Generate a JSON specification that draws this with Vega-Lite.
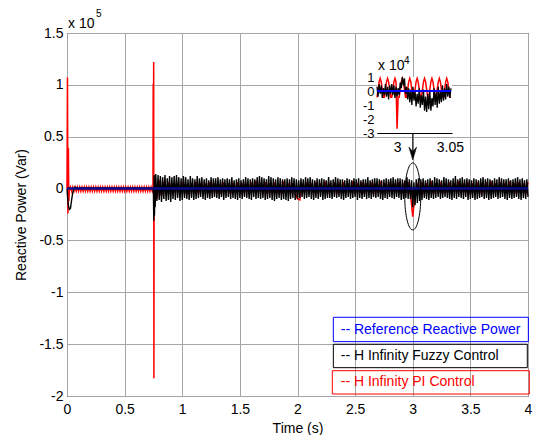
{
"$schema": "https://vega.github.io/schema/vega-lite/v6.json",
"width": 461, "height": 363,
"autosize": {"type": "none"},
"padding": {"left": 67, "top": 33, "right": 6, "bottom": 39},
"background": "white",
"config": {
  "view": {"stroke": "black", "strokeWidth": 1},
  "font": "Liberation Sans",
  "axis": {"labelFont": "Liberation Sans", "titleFont": "Liberation Sans", "labelFontSize": 14, "titleFontSize": 14, "labelColor": "black", "titleColor": "black", "titleFontWeight": "normal", "ticks": false, "domainColor": "black", "gridColor": "#a6a6a6", "gridOpacity": 1, "labelFlush": false, "labelOverlap": false}
},
"datasets": {
  "ref": [{"t": 0, "v": 0}, {"t": 4, "v": 0}],
  "pi": [
    {"t":0,"v":0},{"t":0.004,"v":107000},{"t":0.008,"v":-24000},{"t":0.012,"v":39000},{"t":0.016,"v":-12000},{"t":0.02,"v":-2000},
    {"t":0.03,"v":1500},{"t":0.04,"v":-2500},{"t":0.05,"v":1500},{"t":0.06,"v":-2500},{"t":0.07,"v":1500},{"t":0.08,"v":-2500},{"t":0.09,"v":1500},{"t":0.10,"v":-2500},{"t":0.11,"v":1500},{"t":0.12,"v":-2500},
    {"t":0.13,"v":1500},{"t":0.14,"v":-2500},{"t":0.15,"v":1500},{"t":0.16,"v":-2500},{"t":0.17,"v":1500},{"t":0.18,"v":-2500},{"t":0.19,"v":1500},{"t":0.20,"v":-2500},{"t":0.21,"v":1500},{"t":0.22,"v":-2500},
    {"t":0.23,"v":1500},{"t":0.24,"v":-2500},{"t":0.25,"v":1500},{"t":0.26,"v":-2500},{"t":0.27,"v":1500},{"t":0.28,"v":-2500},{"t":0.29,"v":1500},{"t":0.30,"v":-2500},{"t":0.31,"v":1500},{"t":0.32,"v":-2500},
    {"t":0.33,"v":1500},{"t":0.34,"v":-2500},{"t":0.35,"v":1500},{"t":0.36,"v":-2500},{"t":0.37,"v":1500},{"t":0.38,"v":-2500},{"t":0.39,"v":1500},{"t":0.40,"v":-2500},{"t":0.41,"v":1500},{"t":0.42,"v":-2500},
    {"t":0.43,"v":1500},{"t":0.44,"v":-2500},{"t":0.45,"v":1500},{"t":0.46,"v":-2500},{"t":0.47,"v":1500},{"t":0.48,"v":-2500},{"t":0.49,"v":1500},{"t":0.50,"v":-2500},{"t":0.51,"v":1500},{"t":0.52,"v":-2500},
    {"t":0.53,"v":1500},{"t":0.54,"v":-2500},{"t":0.55,"v":1500},{"t":0.56,"v":-2500},{"t":0.57,"v":1500},{"t":0.58,"v":-2500},{"t":0.59,"v":1500},{"t":0.60,"v":-2500},{"t":0.61,"v":1500},{"t":0.62,"v":-2500},
    {"t":0.63,"v":1500},{"t":0.64,"v":-2500},{"t":0.65,"v":1500},{"t":0.66,"v":-2500},{"t":0.67,"v":1500},{"t":0.68,"v":-2500},{"t":0.69,"v":1500},{"t":0.70,"v":-2500},{"t":0.71,"v":1500},{"t":0.72,"v":-2500},
    {"t":0.73,"v":1500},{"t":0.74,"v":-2500},
    {"t":0.746,"v":0},{"t":0.748,"v":101000},{"t":0.750,"v":2000},{"t":0.752,"v":122000},{"t":0.754,"v":-183000},{"t":0.756,"v":10000},
    {"t":0.76,"v":9000},{"t":0.78,"v":-10000},{"t":0.80,"v":8000},{"t":0.82,"v":-7000},{"t":0.84,"v":6000},{"t":0.86,"v":-5000},{"t":0.88,"v":6000},{"t":0.90,"v":-5000},{"t":0.92,"v":5000},{"t":0.94,"v":-4000},
    {"t":0.96,"v":5000},{"t":0.98,"v":-4000},{"t":1.00,"v":6000},{"t":1.02,"v":-5000},{"t":1.04,"v":4000},{"t":1.06,"v":-5000},{"t":1.08,"v":5000},{"t":1.10,"v":-4000},{"t":1.12,"v":6000},{"t":1.14,"v":-5000},
    {"t":1.16,"v":5000},{"t":1.18,"v":-4000},{"t":1.20,"v":5000},{"t":1.22,"v":-5000},{"t":1.24,"v":6000},{"t":1.26,"v":-4000},{"t":1.28,"v":5000},{"t":1.30,"v":-5000},{"t":1.32,"v":4000},{"t":1.34,"v":-5000},
    {"t":1.36,"v":6000},{"t":1.38,"v":-4000},{"t":1.40,"v":5000},{"t":1.42,"v":-5000},{"t":1.44,"v":4000},{"t":1.46,"v":-4000},{"t":1.48,"v":6000},{"t":1.50,"v":-5000},{"t":1.52,"v":5000},{"t":1.54,"v":-4000},
    {"t":1.56,"v":5000},{"t":1.58,"v":-5000},{"t":1.60,"v":6000},{"t":1.62,"v":-4000},{"t":1.64,"v":7000},{"t":1.66,"v":-4000},{"t":1.68,"v":5000},{"t":1.70,"v":-5000},{"t":1.72,"v":6000},{"t":1.74,"v":-5000},
    {"t":1.76,"v":5000},{"t":1.78,"v":-4000},{"t":1.80,"v":6000},{"t":1.82,"v":-5000},{"t":1.84,"v":4000},{"t":1.86,"v":-5000},{"t":1.88,"v":7000},{"t":1.90,"v":-4000},{"t":1.92,"v":5000},{"t":1.94,"v":-5000},
    {"t":1.96,"v":5000},{"t":1.98,"v":-4000},{"t":2.00,"v":-10000},{"t":2.02,"v":-11000},{"t":2.04,"v":5000},{"t":2.06,"v":-4000},{"t":2.08,"v":6000},{"t":2.10,"v":-5000},{"t":2.12,"v":5000},{"t":2.14,"v":-4000},
    {"t":2.16,"v":6000},{"t":2.18,"v":-5000},{"t":2.20,"v":5000},{"t":2.22,"v":-4000},{"t":2.24,"v":7000},{"t":2.26,"v":-5000},{"t":2.28,"v":5000},{"t":2.30,"v":-4000},{"t":2.32,"v":6000},{"t":2.34,"v":-5000},
    {"t":2.36,"v":5000},{"t":2.38,"v":-4000},{"t":2.40,"v":6000},{"t":2.42,"v":-5000},{"t":2.44,"v":5000},{"t":2.46,"v":-4000},{"t":2.48,"v":7000},{"t":2.50,"v":-5000},{"t":2.52,"v":5000},{"t":2.54,"v":-4000},
    {"t":2.56,"v":6000},{"t":2.58,"v":-5000},{"t":2.60,"v":5000},{"t":2.62,"v":-4000},{"t":2.64,"v":6000},{"t":2.66,"v":-5000},{"t":2.68,"v":5000},{"t":2.70,"v":-4000},{"t":2.72,"v":7000},{"t":2.74,"v":-5000},
    {"t":2.76,"v":5000},{"t":2.78,"v":-4000},{"t":2.80,"v":6000},{"t":2.82,"v":-5000},{"t":2.84,"v":5000},{"t":2.86,"v":-4000},{"t":2.88,"v":6000},{"t":2.90,"v":-5000},{"t":2.92,"v":5000},{"t":2.94,"v":-4000},
    {"t":2.96,"v":6000},{"t":2.98,"v":-5000},{"t":3.00,"v":-27000},{"t":3.02,"v":-6000},{"t":3.04,"v":5000},{"t":3.06,"v":-4000},{"t":3.08,"v":6000},{"t":3.10,"v":-5000},{"t":3.12,"v":5000},{"t":3.14,"v":-4000},
    {"t":3.16,"v":7000},{"t":3.18,"v":-5000},{"t":3.20,"v":5000},{"t":3.22,"v":-4000},{"t":3.24,"v":6000},{"t":3.26,"v":-5000},{"t":3.28,"v":5000},{"t":3.30,"v":-4000},{"t":3.32,"v":6000},{"t":3.34,"v":-5000},
    {"t":3.36,"v":5000},{"t":3.38,"v":-4000},{"t":3.40,"v":7000},{"t":3.42,"v":-5000},{"t":3.44,"v":5000},{"t":3.46,"v":-4000},{"t":3.48,"v":6000},{"t":3.50,"v":-5000},{"t":3.52,"v":5000},{"t":3.54,"v":-4000},
    {"t":3.56,"v":6000},{"t":3.58,"v":-5000},{"t":3.60,"v":5000},{"t":3.62,"v":-4000},{"t":3.64,"v":6000},{"t":3.66,"v":-5000},{"t":3.68,"v":7000},{"t":3.70,"v":-4000},{"t":3.72,"v":5000},{"t":3.74,"v":-5000},
    {"t":3.76,"v":6000},{"t":3.78,"v":-4000},{"t":3.80,"v":5000},{"t":3.82,"v":-5000},{"t":3.84,"v":7000},{"t":3.86,"v":-4000},{"t":3.88,"v":5000},{"t":3.90,"v":-5000},{"t":3.92,"v":6000},{"t":3.94,"v":-4000},
    {"t":3.96,"v":5000},{"t":3.98,"v":-5000},{"t":4.00,"v":6000}
  ],
  "fuzzy": [
    {"t":0,"v":0},{"t":0.005,"v":-8000},{"t":0.01,"v":-15000},{"t":0.02,"v":-20000},{"t":0.03,"v":-19000},{"t":0.04,"v":-11000},{"t":0.05,"v":-4000},{"t":0.06,"v":0},{"t":0.07,"v":1500},{"t":0.08,"v":800},
    {"t":0.15,"v":500},{"t":0.25,"v":300},{"t":0.35,"v":700},{"t":0.45,"v":400},{"t":0.55,"v":600},{"t":0.65,"v":400},{"t":0.745,"v":500},
    {"t":0.75,"v":-5000},{"t":0.753,"v":-31000},{"t":0.756,"v":13000},{"t":0.759,"v":-26000},{"t":0.762,"v":6000},{"t":0.765,"v":-18000},{"t":0.77,"v":14000},
    {"t":0.78,"v":-12000},{"t":0.79,"v":13000},{"t":0.80,"v":-11000},{"t":0.81,"v":12000},{"t":0.82,"v":-13000},{"t":0.83,"v":11000},{"t":0.84,"v":-10000},{"t":0.85,"v":13000},{"t":0.86,"v":-12000},{"t":0.87,"v":10000},
    {"t":0.88,"v":-11000},{"t":0.89,"v":12000},{"t":0.90,"v":-13000},{"t":0.91,"v":11000},{"t":0.92,"v":-10000},{"t":0.93,"v":12000},{"t":0.94,"v":-11000},{"t":0.95,"v":13000},{"t":0.96,"v":-9000},{"t":0.97,"v":11000},
    {"t":0.98,"v":-12000},{"t":0.99,"v":10000},{"t":1.00,"v":-11000},{"t":1.01,"v":12000},{"t":1.02,"v":-9000},{"t":1.03,"v":11000},{"t":1.04,"v":-10000},{"t":1.05,"v":9000},{"t":1.06,"v":-11000},{"t":1.07,"v":12000},
    {"t":1.08,"v":-9000},{"t":1.09,"v":10000},{"t":1.10,"v":-11000},{"t":1.11,"v":9000},{"t":1.12,"v":-10000},{"t":1.13,"v":12000},{"t":1.14,"v":-9000},{"t":1.15,"v":10000},{"t":1.16,"v":-8000},{"t":1.17,"v":11000},
    {"t":1.18,"v":-10000},{"t":1.19,"v":9000},{"t":1.20,"v":-11000},{"t":1.21,"v":10000},{"t":1.22,"v":-9000},{"t":1.23,"v":8000},{"t":1.24,"v":-10000},{"t":1.25,"v":11000},{"t":1.26,"v":-9000},{"t":1.27,"v":10000},
    {"t":1.28,"v":-8000},{"t":1.29,"v":10000},{"t":1.30,"v":-9000},{"t":1.31,"v":11000},{"t":1.32,"v":-10000},{"t":1.33,"v":9000},{"t":1.34,"v":-8000},{"t":1.35,"v":10000},{"t":1.36,"v":-11000},{"t":1.37,"v":9000},
    {"t":1.38,"v":-9000},{"t":1.39,"v":10000},{"t":1.40,"v":-8000},{"t":1.41,"v":9000},{"t":1.42,"v":-10000},{"t":1.43,"v":11000},{"t":1.44,"v":-9000},{"t":1.45,"v":8000},{"t":1.46,"v":-10000},{"t":1.47,"v":9000},
    {"t":1.48,"v":-11000},{"t":1.49,"v":10000},{"t":1.50,"v":-9000},{"t":1.51,"v":8000},{"t":1.52,"v":-10000},{"t":1.53,"v":9000},{"t":1.54,"v":-8000},{"t":1.55,"v":11000},{"t":1.56,"v":-9000},{"t":1.57,"v":10000},
    {"t":1.58,"v":-10000},{"t":1.59,"v":9000},{"t":1.60,"v":-11000},{"t":1.61,"v":10000},{"t":1.62,"v":-8000},{"t":1.63,"v":9000},{"t":1.64,"v":-10000},{"t":1.65,"v":11000},{"t":1.66,"v":-9000},{"t":1.67,"v":12000},
    {"t":1.68,"v":-10000},{"t":1.69,"v":11000},{"t":1.70,"v":-9000},{"t":1.71,"v":10000},{"t":1.72,"v":-11000},{"t":1.73,"v":9000},{"t":1.74,"v":-10000},{"t":1.75,"v":12000},{"t":1.76,"v":-9000},{"t":1.77,"v":11000},
    {"t":1.78,"v":-11000},{"t":1.79,"v":10000},{"t":1.80,"v":-12000},{"t":1.81,"v":9000},{"t":1.82,"v":-10000},{"t":1.83,"v":11000},{"t":1.84,"v":-9000},{"t":1.85,"v":10000},{"t":1.86,"v":-11000},{"t":1.87,"v":9000},
    {"t":1.88,"v":-10000},{"t":1.89,"v":9000},{"t":1.90,"v":-11000},{"t":1.91,"v":10000},{"t":1.92,"v":-12000},{"t":1.93,"v":9000},{"t":1.94,"v":-10000},{"t":1.95,"v":11000},{"t":1.96,"v":-9000},{"t":1.97,"v":10000},
    {"t":1.98,"v":-11000},{"t":1.99,"v":9000},{"t":2.00,"v":-10000},{"t":2.01,"v":8000},{"t":2.02,"v":-9000},{"t":2.03,"v":10000},{"t":2.04,"v":-8000},{"t":2.05,"v":9000},{"t":2.06,"v":-10000},{"t":2.07,"v":11000},
    {"t":2.08,"v":-9000},{"t":2.09,"v":10000},{"t":2.10,"v":-8000},{"t":2.11,"v":11000},{"t":2.12,"v":-10000},{"t":2.13,"v":9000},{"t":2.14,"v":-11000},{"t":2.15,"v":8000},{"t":2.16,"v":-9000},{"t":2.17,"v":10000},
    {"t":2.18,"v":-10000},{"t":2.19,"v":9000},{"t":2.20,"v":-8000},{"t":2.21,"v":10000},{"t":2.22,"v":-11000},{"t":2.23,"v":9000},{"t":2.24,"v":-10000},{"t":2.25,"v":8000},{"t":2.26,"v":-9000},{"t":2.27,"v":11000},
    {"t":2.28,"v":-9000},{"t":2.29,"v":8000},{"t":2.30,"v":-10000},{"t":2.31,"v":9000},{"t":2.32,"v":-8000},{"t":2.33,"v":11000},{"t":2.34,"v":-9000},{"t":2.35,"v":10000},{"t":2.36,"v":-8000},{"t":2.37,"v":9000},
    {"t":2.38,"v":-10000},{"t":2.39,"v":9000},{"t":2.40,"v":-11000},{"t":2.41,"v":8000},{"t":2.42,"v":-9000},{"t":2.43,"v":10000},{"t":2.44,"v":-8000},{"t":2.45,"v":9000},{"t":2.46,"v":-10000},{"t":2.47,"v":8000},
    {"t":2.48,"v":-9000},{"t":2.49,"v":10000},{"t":2.50,"v":-8000},{"t":2.51,"v":9000},{"t":2.52,"v":-11000},{"t":2.53,"v":10000},{"t":2.54,"v":-9000},{"t":2.55,"v":8000},{"t":2.56,"v":-10000},{"t":2.57,"v":9000},
    {"t":2.58,"v":-8000},{"t":2.59,"v":9000},{"t":2.60,"v":-10000},{"t":2.61,"v":11000},{"t":2.62,"v":-9000},{"t":2.63,"v":8000},{"t":2.64,"v":-10000},{"t":2.65,"v":9000},{"t":2.66,"v":-8000},{"t":2.67,"v":10000},
    {"t":2.68,"v":-9000},{"t":2.69,"v":10000},{"t":2.70,"v":-8000},{"t":2.71,"v":9000},{"t":2.72,"v":-10000},{"t":2.73,"v":8000},{"t":2.74,"v":-11000},{"t":2.75,"v":9000},{"t":2.76,"v":-9000},{"t":2.77,"v":10000},
    {"t":2.78,"v":-10000},{"t":2.79,"v":9000},{"t":2.80,"v":-8000},{"t":2.81,"v":10000},{"t":2.82,"v":-9000},{"t":2.83,"v":11000},{"t":2.84,"v":-10000},{"t":2.85,"v":9000},{"t":2.86,"v":-8000},{"t":2.87,"v":10000},
    {"t":2.88,"v":-9000},{"t":2.89,"v":10000},{"t":2.90,"v":-11000},{"t":2.91,"v":9000},{"t":2.92,"v":-10000},{"t":2.93,"v":8000},{"t":2.94,"v":-9000},{"t":2.95,"v":11000},{"t":2.96,"v":-10000},{"t":2.97,"v":9000},
    {"t":2.98,"v":-10000},{"t":2.99,"v":8000},{"t":3.00,"v":-18000},{"t":3.01,"v":6000},{"t":3.02,"v":-16000},{"t":3.03,"v":9000},{"t":3.04,"v":-14000},{"t":3.05,"v":10000},{"t":3.06,"v":-12000},{"t":3.07,"v":9000},
    {"t":3.08,"v":-11000},{"t":3.09,"v":10000},{"t":3.10,"v":-9000},{"t":3.11,"v":8000},{"t":3.12,"v":-10000},{"t":3.13,"v":9000},{"t":3.14,"v":-11000},{"t":3.15,"v":10000},{"t":3.16,"v":-9000},{"t":3.17,"v":8000},
    {"t":3.18,"v":-10000},{"t":3.19,"v":11000},{"t":3.20,"v":-9000},{"t":3.21,"v":10000},{"t":3.22,"v":-8000},{"t":3.23,"v":9000},{"t":3.24,"v":-10000},{"t":3.25,"v":8000},{"t":3.26,"v":-9000},{"t":3.27,"v":11000},
    {"t":3.28,"v":-8000},{"t":3.29,"v":10000},{"t":3.30,"v":-9000},{"t":3.31,"v":9000},{"t":3.32,"v":-10000},{"t":3.33,"v":8000},{"t":3.34,"v":-11000},{"t":3.35,"v":10000},{"t":3.36,"v":-9000},{"t":3.37,"v":12000},
    {"t":3.38,"v":-10000},{"t":3.39,"v":9000},{"t":3.40,"v":-8000},{"t":3.41,"v":10000},{"t":3.42,"v":-9000},{"t":3.43,"v":11000},{"t":3.44,"v":-10000},{"t":3.45,"v":9000},{"t":3.46,"v":-8000},{"t":3.47,"v":10000},
    {"t":3.48,"v":-11000},{"t":3.49,"v":9000},{"t":3.50,"v":-10000},{"t":3.51,"v":8000},{"t":3.52,"v":-9000},{"t":3.53,"v":10000},{"t":3.54,"v":-11000},{"t":3.55,"v":9000},{"t":3.56,"v":-10000},{"t":3.57,"v":8000},
    {"t":3.58,"v":-9000},{"t":3.59,"v":10000},{"t":3.60,"v":-8000},{"t":3.61,"v":11000},{"t":3.62,"v":-10000},{"t":3.63,"v":9000},{"t":3.64,"v":-9000},{"t":3.65,"v":10000},{"t":3.66,"v":-11000},{"t":3.67,"v":9000},
    {"t":3.68,"v":-10000},{"t":3.69,"v":8000},{"t":3.70,"v":-9000},{"t":3.71,"v":10000},{"t":3.72,"v":-8000},{"t":3.73,"v":9000},{"t":3.74,"v":-10000},{"t":3.75,"v":11000},{"t":3.76,"v":-9000},{"t":3.77,"v":10000},
    {"t":3.78,"v":-8000},{"t":3.79,"v":9000},{"t":3.80,"v":-10000},{"t":3.81,"v":9000},{"t":3.82,"v":-11000},{"t":3.83,"v":10000},{"t":3.84,"v":-9000},{"t":3.85,"v":8000},{"t":3.86,"v":-10000},{"t":3.87,"v":9000},
    {"t":3.88,"v":-9000},{"t":3.89,"v":10000},{"t":3.90,"v":-8000},{"t":3.91,"v":11000},{"t":3.92,"v":-10000},{"t":3.93,"v":9000},{"t":3.94,"v":-11000},{"t":3.95,"v":10000},{"t":3.96,"v":-9000},{"t":3.97,"v":8000},
    {"t":3.98,"v":-10000},{"t":3.99,"v":9000},{"t":4.00,"v":-8000}
  ],
  "ref_zoom": [{"t": 2.981, "v": 0}, {"t": 3.051, "v": 0}],
  "pi_zoom": [
    {"t":2.981,"v":-4500},{"t":2.982,"v":1000},{"t":2.983,"v":6500},{"t":2.984,"v":9000},{"t":2.985,"v":6500},{"t":2.986,"v":1000},{"t":2.987,"v":-4500},{"t":2.988,"v":-4500},{"t":2.989,"v":1000},{"t":2.990,"v":6500},
    {"t":2.991,"v":9000},{"t":2.992,"v":6500},{"t":2.993,"v":1000},{"t":2.994,"v":-4500},{"t":2.995,"v":-4500},{"t":2.996,"v":1000},{"t":2.997,"v":6500},{"t":2.998,"v":9000},{"t":2.999,"v":6500},{"t":3.000,"v":-27000},
    {"t":3.001,"v":-4500},{"t":3.002,"v":-4500},{"t":3.003,"v":1000},{"t":3.004,"v":6500},{"t":3.005,"v":9000},{"t":3.006,"v":6500},{"t":3.007,"v":1000},{"t":3.008,"v":-4500},{"t":3.009,"v":-4500},{"t":3.010,"v":1000},
    {"t":3.011,"v":6500},{"t":3.012,"v":9000},{"t":3.013,"v":6500},{"t":3.014,"v":1000},{"t":3.015,"v":-4500},{"t":3.016,"v":-4500},{"t":3.017,"v":1000},{"t":3.018,"v":6500},{"t":3.019,"v":9000},{"t":3.020,"v":6500},
    {"t":3.021,"v":1000},{"t":3.022,"v":-4500},{"t":3.023,"v":-4500},{"t":3.024,"v":1000},{"t":3.025,"v":6500},{"t":3.026,"v":9000},{"t":3.027,"v":6500},{"t":3.028,"v":1000},{"t":3.029,"v":-4500},{"t":3.030,"v":-4500},
    {"t":3.031,"v":1000},{"t":3.032,"v":6500},{"t":3.033,"v":9000},{"t":3.034,"v":6500},{"t":3.035,"v":1000},{"t":3.036,"v":-4500},{"t":3.037,"v":-4500},{"t":3.038,"v":1000},{"t":3.039,"v":6500},{"t":3.040,"v":9000},
    {"t":3.041,"v":6500},{"t":3.042,"v":1000},{"t":3.043,"v":-4500},{"t":3.044,"v":-4500},{"t":3.045,"v":1000},{"t":3.046,"v":6500},{"t":3.047,"v":9000},{"t":3.048,"v":6500},{"t":3.049,"v":1000},{"t":3.050,"v":-4500},
    {"t":3.051,"v":-4500}
  ],
  "fuzzy_zoom": [
    {"t":2.981,"v":3000},{"t":2.982,"v":-4000},{"t":2.983,"v":5000},{"t":2.984,"v":-2000},{"t":2.985,"v":4000},{"t":2.986,"v":-5000},{"t":2.987,"v":2000},{"t":2.988,"v":-3000},{"t":2.989,"v":5000},{"t":2.990,"v":-4000},
    {"t":2.991,"v":3000},{"t":2.992,"v":-6000},{"t":2.993,"v":4000},{"t":2.994,"v":-2000},{"t":2.995,"v":5000},{"t":2.996,"v":-3000},{"t":2.997,"v":4000},{"t":2.998,"v":-5000},{"t":2.999,"v":3000},{"t":3.000,"v":-4000},
    {"t":3.001,"v":2000},{"t":3.002,"v":-3000},{"t":3.003,"v":6000},{"t":3.004,"v":2000},{"t":3.005,"v":10000},{"t":3.006,"v":4000},{"t":3.007,"v":9000},{"t":3.008,"v":-2000},{"t":3.009,"v":3000},{"t":3.010,"v":-6000},
    {"t":3.011,"v":2000},{"t":3.012,"v":-8000},{"t":3.013,"v":1000},{"t":3.014,"v":-10000},{"t":3.015,"v":3000},{"t":3.016,"v":-7000},{"t":3.017,"v":0},{"t":3.018,"v":-11000},{"t":3.019,"v":-2000},{"t":3.020,"v":-9000},
    {"t":3.021,"v":2000},{"t":3.022,"v":-12000},{"t":3.023,"v":-3000},{"t":3.024,"v":-10000},{"t":3.025,"v":1000},{"t":3.026,"v":-14000},{"t":3.027,"v":-4000},{"t":3.028,"v":-15000},{"t":3.029,"v":-2000},{"t":3.030,"v":-13000},
    {"t":3.031,"v":0},{"t":3.032,"v":-14000},{"t":3.033,"v":-5000},{"t":3.034,"v":-11000},{"t":3.035,"v":2000},{"t":3.036,"v":-10000},{"t":3.037,"v":-1000},{"t":3.038,"v":-12000},{"t":3.039,"v":3000},{"t":3.040,"v":-9000},
    {"t":3.041,"v":0},{"t":3.042,"v":-8000},{"t":3.043,"v":4000},{"t":3.044,"v":-7000},{"t":3.045,"v":2000},{"t":3.046,"v":-6000},{"t":3.047,"v":5000},{"t":3.048,"v":-4000},{"t":3.049,"v":3000},{"t":3.050,"v":-5000},
    {"t":3.051,"v":2000}
  ]
},
"layer": [
  {
    "layer": [
      {
        "data": {"name": "pi"},
        "mark": {"type": "line", "color": "#ff0000", "strokeWidth": 1.5},
        "encoding": {
          "x": {"field": "t", "type": "quantitative", "scale": {"domain": [0, 4], "nice": false, "zero": false},
                "axis": {"values": [0, 0.5, 1, 1.5, 2, 2.5, 3, 3.5, 4], "format": "~g", "title": "Time (s)", "grid": true, "domain": false, "labelPadding": 6, "titlePadding": 5}},
          "y": {"field": "v", "type": "quantitative", "scale": {"domain": [-200000, 150000], "nice": false, "zero": false},
                "axis": {"values": [-200000, -150000, -100000, -50000, 0, 50000, 100000, 150000], "labelExpr": "datum.value / 100000", "title": "Reactive Power (Var)", "grid": true, "domain": false, "labelPadding": 4, "titlePadding": 10}}
        }
      },
      {
        "data": {"name": "fuzzy"},
        "mark": {"type": "line", "color": "#000000", "strokeWidth": 1.4},
        "encoding": {"x": {"field": "t", "type": "quantitative"}, "y": {"field": "v", "type": "quantitative"}}
      },
      {
        "data": {"name": "ref"},
        "mark": {"type": "line", "color": "#0a0a8c", "strokeWidth": 2.5},
        "encoding": {"x": {"field": "t", "type": "quantitative"}, "y": {"field": "v", "type": "quantitative"}}
      },
      {
        "data": {"values": [{}]},
        "mark": {"type": "point", "shape": "M0,-1A0.239,1,0,1,1,0,1A0.239,1,0,1,1,0,-1Z", "size": 4489, "filled": false, "stroke": "black", "strokeWidth": 1, "opacity": 1},
        "encoding": {"x": {"datum": 3.0, "type": "quantitative"}, "y": {"datum": -7600, "type": "quantitative"}}
      },
      {
        "data": {"values": [{}]},
        "mark": {"type": "rule", "color": "black", "strokeWidth": 1},
        "encoding": {"x": {"datum": 3.0, "type": "quantitative"}, "y": {"datum": 53600, "type": "quantitative"}, "y2": {"datum": 30000}}
      },
      {
        "data": {"values": [{}]},
        "mark": {"type": "point", "shape": "M-0.6,-1L0,1L0.6,-1L0,-0.3Z", "size": 169, "filled": true, "fill": "black", "stroke": "black", "strokeWidth": 0.5, "opacity": 1},
        "encoding": {"x": {"datum": 3.0, "type": "quantitative"}, "y": {"datum": 33800, "type": "quantitative"}}
      },
      {
        "data": {"values": [{}]},
        "mark": {"type": "rect", "fillOpacity": 0, "stroke": "#0000ff", "strokeWidth": 1},
        "encoding": {"x": {"datum": 2.311, "type": "quantitative"}, "x2": {"datum": 4.003}, "y": {"datum": -124100, "type": "quantitative"}, "y2": {"datum": -147600}}
      },
      {
        "data": {"values": [{}]},
        "mark": {"type": "rect", "fillOpacity": 0, "stroke": "#000000", "strokeWidth": 1},
        "encoding": {"x": {"datum": 2.311, "type": "quantitative"}, "x2": {"datum": 3.994}, "y": {"datum": -150100, "type": "quantitative"}, "y2": {"datum": -172700}}
      },
      {
        "data": {"values": [{}]},
        "mark": {"type": "rect", "fillOpacity": 0, "stroke": "#ff0000", "strokeWidth": 1},
        "encoding": {"x": {"datum": 2.302, "type": "quantitative"}, "x2": {"datum": 4.011}, "y": {"datum": -175600, "type": "quantitative"}, "y2": {"datum": -198100}}
      },
      {
        "data": {"values": [{"label": "-- Reference Reactive Power"}]},
        "mark": {"type": "text", "align": "left", "baseline": "middle", "font": "Liberation Sans", "fontSize": 14, "color": "#0000ff"},
        "encoding": {"text": {"field": "label"}, "x": {"datum": 2.375, "type": "quantitative"}, "y": {"datum": -135900, "type": "quantitative"}}
      },
      {
        "data": {"values": [{"label": "-- H Infinity Fuzzy Control"}]},
        "mark": {"type": "text", "align": "left", "baseline": "middle", "font": "Liberation Sans", "fontSize": 14, "color": "#000000"},
        "encoding": {"text": {"field": "label"}, "x": {"datum": 2.375, "type": "quantitative"}, "y": {"datum": -161400, "type": "quantitative"}}
      },
      {
        "data": {"values": [{"label": "-- H Infinity PI Control"}]},
        "mark": {"type": "text", "align": "left", "baseline": "middle", "font": "Liberation Sans", "fontSize": 14, "color": "#ff0000"},
        "encoding": {"text": {"field": "label"}, "x": {"datum": 2.375, "type": "quantitative"}, "y": {"datum": -186800, "type": "quantitative"}}
      },
      {
        "data": {"values": [{"label": "x 10"}]},
        "mark": {"type": "text", "align": "left", "baseline": "alphabetic", "font": "Liberation Sans", "fontSize": 14, "color": "black", "dx": 1, "dy": -5},
        "encoding": {"text": {"field": "label"}, "x": {"datum": 0, "type": "quantitative"}, "y": {"datum": 150000, "type": "quantitative"}}
      },
      {
        "data": {"values": [{"label": "5"}]},
        "mark": {"type": "text", "align": "left", "baseline": "alphabetic", "font": "Liberation Sans", "fontSize": 10, "color": "black", "dx": 29, "dy": -16},
        "encoding": {"text": {"field": "label"}, "x": {"datum": 0, "type": "quantitative"}, "y": {"datum": 150000, "type": "quantitative"}}
      }
    ]
  },
  {
    "layer": [
      {
        "data": {"values": [{}]},
        "mark": {"type": "rect", "fill": "white", "stroke": null},
        "encoding": {
          "x": {"datum": 2.981, "type": "quantitative", "scale": {"domain": [2.981, 3.052], "range": [310, 385], "nice": false, "zero": false},
                "axis": {"orient": "bottom", "offset": -263, "values": [3, 3.05], "format": "~g", "title": null, "grid": false, "domain": true, "labelPadding": 7}},
          "x2": {"datum": 3.052},
          "y": {"datum": -30000, "type": "quantitative", "scale": {"domain": [-30000, 10000], "range": [100, 44], "nice": false, "zero": false},
                "axis": {"orient": "left", "offset": -310, "values": [-30000, -20000, -10000, 0, 10000], "labelExpr": "datum.value / 10000", "labelFontSize": 13, "title": null, "grid": false, "domain": true, "labelPadding": 3}},
          "y2": {"datum": 10000}
        }
      },
      {
        "data": {"name": "pi_zoom"},
        "mark": {"type": "line", "color": "#ff0000", "strokeWidth": 1.5},
        "encoding": {"x": {"field": "t", "type": "quantitative"}, "y": {"field": "v", "type": "quantitative"}}
      },
      {
        "data": {"name": "fuzzy_zoom"},
        "mark": {"type": "line", "color": "#000000", "strokeWidth": 1.3},
        "encoding": {"x": {"field": "t", "type": "quantitative"}, "y": {"field": "v", "type": "quantitative"}}
      },
      {
        "data": {"name": "ref_zoom"},
        "mark": {"type": "line", "color": "#0000ff", "strokeWidth": 2},
        "encoding": {"x": {"field": "t", "type": "quantitative"}, "y": {"field": "v", "type": "quantitative"}}
      },
      {
        "data": {"values": [{"label": "x 10"}]},
        "mark": {"type": "text", "align": "left", "baseline": "alphabetic", "font": "Liberation Sans", "fontSize": 14, "color": "black", "dx": 1, "dy": -7},
        "encoding": {"text": {"field": "label"}, "x": {"datum": 2.981, "type": "quantitative"}, "y": {"datum": 10000, "type": "quantitative"}}
      },
      {
        "data": {"values": [{"label": "4"}]},
        "mark": {"type": "text", "align": "left", "baseline": "alphabetic", "font": "Liberation Sans", "fontSize": 10, "color": "black", "dx": 27, "dy": -13},
        "encoding": {"text": {"field": "label"}, "x": {"datum": 2.981, "type": "quantitative"}, "y": {"datum": 10000, "type": "quantitative"}}
      }
    ]
  }
],
"resolve": {"scale": {"x": "independent", "y": "independent"}, "axis": {"x": "independent", "y": "independent"}}
}
